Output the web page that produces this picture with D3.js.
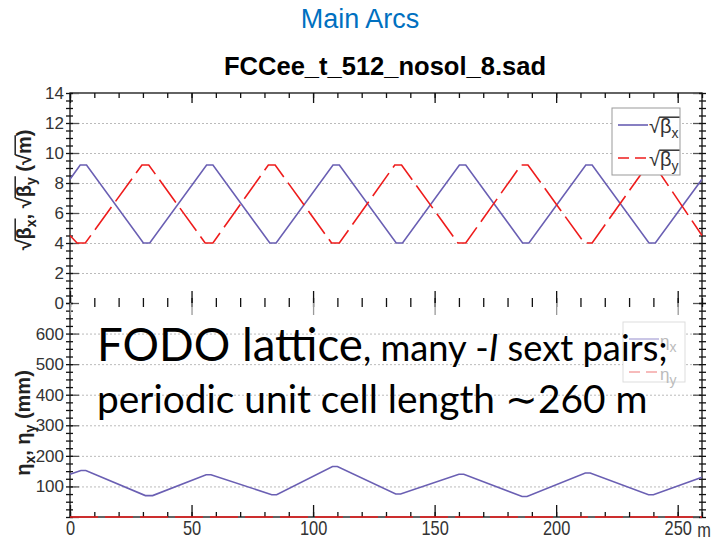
<html>
<meta charset="utf-8" />
<head>
<title>Main Arcs</title>
<style>
body { margin: 0; background: white; }
svg text { font-family: "Liberation Sans", Arial, sans-serif; }
.tick text { fill: #333; }
</style>
<script src="https://d3js.org/d3.v7.min.js" charset="utf-8"></script>
</head>
<body>
<svg class="chart"></svg>
<script>
var chartWidth = 711, chartHeight = 544;

// sqrt(beta_x) vertices: s (m), value (sqrt m)
var sBx = [0, 4.2, 6.8, 30.2, 32.8, 56.2, 58.8, 82.2, 84.8, 108.2, 110.8, 134.2, 136.8, 160.2, 162.8, 186.2, 188.8, 212.2, 214.8, 238.2, 240.8, 260];
var bx  = [8.25, 9.2, 9.2, 4.0, 4.0, 9.2, 9.2, 4.0, 4.0, 9.2, 9.2, 4.0, 4.0, 9.2, 9.2, 4.0, 4.0, 9.2, 9.2, 4.0, 4.0, 8.25];
// sqrt(beta_y)
var sBy = [0, 2.9, 6.3, 29.6, 32.4, 55.6, 58.8, 81.6, 84.4, 107.6, 110.8, 133.6, 136.4, 159.6, 162.8, 185.6, 188.4, 211.6, 214.8, 237.6, 240.4, 260];
var by  = [4.5, 4.0, 4.0, 9.2, 9.2, 4.0, 4.0, 9.2, 9.2, 4.0, 4.0, 9.2, 9.2, 4.0, 4.0, 9.2, 9.2, 4.0, 4.0, 9.2, 9.2, 4.5];
// eta_x (mm)
var sEx = [0, 4.5, 6.5, 31, 34, 56, 58, 83, 85, 108, 110, 134, 136, 160, 162, 186, 188, 212, 214, 238, 240, 260];
var ex  = [140, 152, 152, 70, 70, 138, 138, 73, 73, 165, 165, 75, 75, 140, 140, 67, 67, 144, 144, 73, 73, 130];
// eta_y (mm)
var sEy = [0, 260];
var ey  = [0, 0];

var xMajor = [0, 50, 100, 150, 200, 250];
var xMinor = d3.range(0, 261, 10);
var topMajor = [0, 2, 4, 6, 8, 10, 12, 14];
var topMinor = d3.range(0, 14.01, 0.5);
var botMajor = [100, 200, 300, 400, 500, 600];
var botMinor = d3.range(0, 700.1, 25);

var svg = d3.select(".chart").attr("width", chartWidth).attr("height", chartHeight);

var x = d3.scaleLinear().domain([0, 260]).range([70, 702]);
var yTop = d3.scaleLinear().domain([0, 14]).range([303, 93]);
var yBot = d3.scaleLinear().domain([0, 700]).range([517, 303]);

// titles
svg.append("text").attr("x", 360).attr("y", 28).attr("text-anchor", "middle")
  .style("font-size", "27px").style("fill", "#0070c0").text("Main Arcs");
svg.append("text").attr("x", 385).attr("y", 75).attr("text-anchor", "middle")
  .style("font-size", "25px").style("font-weight", "bold")
  .attr("textLength", 322).attr("lengthAdjust", "spacingAndGlyphs")
  .text("FCCee_t_512_nosol_8.sad");

// grid lines
function grid(y, vals) {
  svg.append("g").attr("transform", "translate(70,0)")
    .call(d3.axisLeft(y).tickValues(vals).tickSize(-632).tickFormat(""))
    .call(function(g) {
      g.select(".domain").remove();
      g.selectAll("line").attr("stroke", "#bbb").attr("stroke-dasharray", "2,2");
    });
}
grid(yTop, [2, 4, 6, 8, 10, 12]);
grid(yBot, botMajor);

// frame
svg.append("rect").attr("x", 70).attr("y", 93).attr("width", 632).attr("height", 424)
  .attr("fill", "none").attr("stroke", "#111").attr("stroke-width", 1.3);

function ticks(axis, tx, ty, color) {
  svg.append("g").attr("transform", "translate(" + tx + "," + ty + ")")
    .call(axis.tickFormat(""))
    .call(function(g) {
      g.select(".domain").remove();
      g.selectAll("line").attr("stroke", color || "#111").attr("stroke-width", 1.3);
    });
}

// y ticks on left and right
[[yTop, topMajor, topMinor], [yBot, botMajor.concat([0]), botMinor]].forEach(function(p) {
  ticks(d3.axisRight(p[0]).tickValues(p[1]).tickSize(9), 70, 0, "#555");
  ticks(d3.axisLeft(p[0]).tickValues(p[2]).tickSize(4), 70, 0);
  ticks(d3.axisRight(p[0]).tickValues(p[2]).tickSize(3), 70, 0);
  ticks(d3.axisLeft(p[0]).tickValues(p[1]).tickSize(9), 702, 0, "#555");
  ticks(d3.axisRight(p[0]).tickValues(p[2]).tickSize(4), 702, 0);
  ticks(d3.axisLeft(p[0]).tickValues(p[2]).tickSize(3), 702, 0);
});

// x ticks: top border, middle, bottom
ticks(d3.axisBottom(x).tickValues(xMinor).tickSize(5), 0, 93);
ticks(d3.axisBottom(x).tickValues(xMajor).tickSize(10), 0, 93);
ticks(d3.axisTop(x).tickValues(xMinor).tickSize(5), 0, 303);
ticks(d3.axisBottom(x).tickValues(xMinor).tickSize(4), 0, 303);
ticks(d3.axisTop(x).tickValues(xMajor).tickSize(12), 0, 303);
ticks(d3.axisBottom(x).tickValues(xMajor).tickSize(12), 0, 303, "#999");
ticks(d3.axisTop(x).tickValues(xMinor).tickSize(5), 0, 517);
ticks(d3.axisTop(x).tickValues(xMajor).tickSize(12), 0, 517);

// tick labels
function labels(axis, tx, ty, size, narrow) {
  svg.append("g").attr("transform", "translate(" + tx + "," + ty + ")")
    .call(axis.tickSize(0))
    .call(function(g) {
      g.select(".domain").remove();
      var t = g.selectAll("text").style("font-size", size);
      if (narrow) t.attr("transform", "scale(0.82,1)");
    });
}
labels(d3.axisLeft(yTop).tickValues(topMajor).tickPadding(6), 70, 0, "17px");
labels(d3.axisLeft(yBot).tickValues(botMajor).tickPadding(6), 70, 0, "17px");
labels(d3.axisBottom(x).tickValues(xMajor).tickPadding(4), 0, 517, "20px", true);
svg.append("text").attr("x", 711).attr("y", 537).attr("text-anchor", "end")
  .attr("transform", "translate(128,0) scale(0.82,1)")
  .style("font-size", "20px").style("fill", "#333").text("m");

// square-root bar over characters i0..i1 (i0 = the radical sign)
function overbar(g, text, i0, i1, color) {
  var n = text.node();
  var r = n.getExtentOfChar(i0), e = n.getExtentOfChar(i1);
  var yy = r.y + r.height * 0.1;
  g.append("line").attr("x1", r.x + r.width - 0.8).attr("x2", e.x + e.width + 1)
    .attr("y1", yy).attr("y2", yy).attr("stroke", color).attr("stroke-width", 1.5);
}

// y axis titles
var g1 = svg.append("g").attr("transform", "translate(31,190) rotate(-90)");
var t1 = g1.append("text").attr("text-anchor", "middle").style("font-size", "20px")
  .style("font-weight", "bold").style("fill", "#222");
t1.append("tspan").text("√β");
t1.append("tspan").attr("dy", 5).style("font-size", "14px").text("x");
t1.append("tspan").attr("dy", -5).text(", √β");
t1.append("tspan").attr("dy", 5).style("font-size", "14px").text("y");
t1.append("tspan").attr("dy", -5).text(" (√m)");
overbar(g1, t1, 0, 2, "#222");
overbar(g1, t1, 5, 7, "#222");
overbar(g1, t1, 10, 11, "#222");

var t2 = svg.append("text").attr("transform", "translate(30,423) rotate(-90)")
  .attr("text-anchor", "middle").style("font-size", "20px").style("font-weight", "bold").style("fill", "#222");
t2.append("tspan").text("η");
t2.append("tspan").attr("dy", 5).style("font-size", "14px").text("x");
t2.append("tspan").attr("dy", -5).text(", η");
t2.append("tspan").attr("dy", 5).style("font-size", "14px").text("y");
t2.append("tspan").attr("dy", -5).text(" (mm)");

// curves
var purple = "#6a5fb3", red = "#ee1c1c";
function curve(sv, vv, y, color, dash) {
  var pts = sv.map(function(s, i) { return [s, vv[i]]; });
  svg.append("path").datum(pts)
    .attr("d", d3.line().x(function(d) { return x(d[0]); }).y(function(d) { return y(d[1]); }))
    .attr("fill", "none").attr("stroke", color).attr("stroke-width", 1.6)
    .attr("stroke-dasharray", dash || null);
}
curve(sBx, bx, yTop, purple);
curve(sBy, by, yTop, red, "28,7");
curve(sEx, ex, yBot, purple);
curve(sEy, ey, yBot, red, "28,7");

// legends
function legend(lx, ly, w, h, names, sub, faded, root) {
  var g = svg.append("g");
  g.append("rect").attr("x", lx).attr("y", ly).attr("width", w).attr("height", h)
    .attr("fill", "white").attr("stroke", faded ? "#ddd" : "#999");
  [purple, red].forEach(function(c, i) {
    var yy = ly + 17 + i * 33;
    g.append("line").attr("x1", lx + 6).attr("x2", lx + 36).attr("y1", yy).attr("y2", yy)
      .attr("stroke", faded ? (i ? "#f5a5a5" : "#bdb8e0") : c).attr("stroke-width", 1.6)
      .attr("stroke-dasharray", i ? "11,6" : null);
    var tc = faded ? "#bbb" : "#333";
    var t = g.append("text").attr("x", lx + 37).attr("y", yy + 8)
      .style("font-size", faded ? "17px" : "20px").style("fill", tc);
    t.append("tspan").text((root ? "√" : "") + names[i]);
    t.append("tspan").attr("dy", 5).style("font-size", "14px").text(sub[i]);
    if (root) overbar(g, t, 0, 2, tc);
  });
}
legend(612, 108, 68, 67, ["β", "β"], ["x", "y"], false, true);
legend(623, 322, 62, 60, ["η", "η"], ["x", "y"], true, false);

// overlay annotation
function fit(sel, width) {
  var w = sel.node().getComputedTextLength();
  var fs = parseFloat(sel.style("font-size"));
  sel.style("font-size", (fs * width / w) + "px");
}
var font = "Lato, 'Open Sans', sans-serif";
var a1 = svg.append("text").attr("x", 97).attr("y", 361).style("font-family", font).style("font-size", "36px").style("fill", "#000").text("FODO lattice");
fit(a1, 266);
var a2 = svg.append("text").attr("x", 363).attr("y", 361).style("font-family", font).style("font-size", "28px").style("fill", "#000");
a2.append("tspan").text(", many -");
a2.append("tspan").style("font-style", "italic").text("I");
a2.append("tspan").text(" sext pairs;");
fit(a2, 305);
var a3 = svg.append("text").attr("x", 97).attr("y", 413).style("font-family", font).style("font-size", "30px").style("fill", "#000").text("periodic unit cell length \u223c260 m");
fit(a3, 550);
</script>
</body>
</html>
